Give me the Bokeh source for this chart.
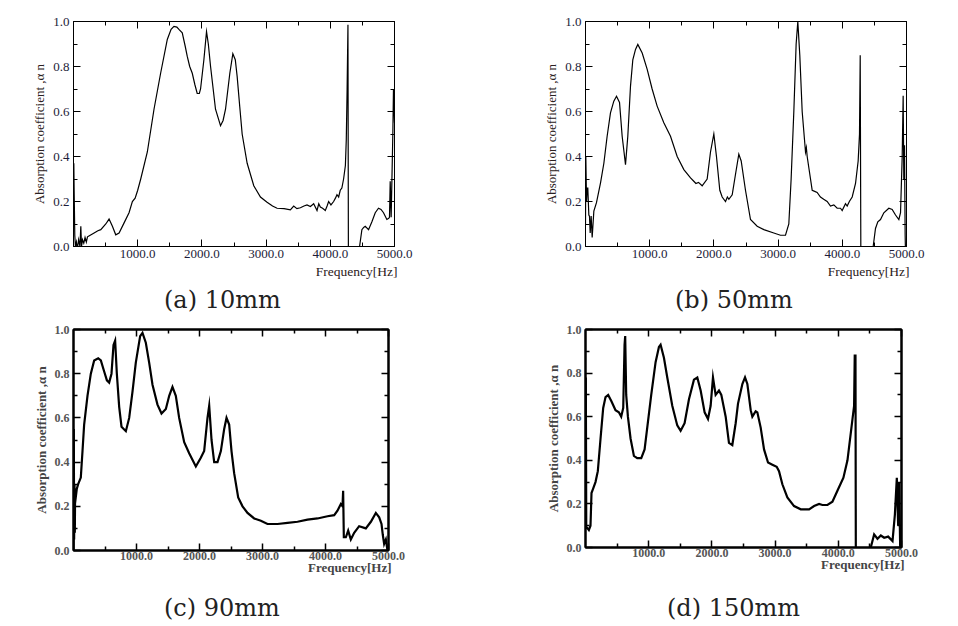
from bokeh.plotting import figure
from bokeh.layouts import column, row
from bokeh.models import (Range1d, FixedTicker, PrintfTickFormatter, LinearAxis,
                          Title, Div, CustomJSTickFormatter)
from bokeh.embed import file_html
from bokeh.resources import INLINE

# ---------------- data ----------------
X_TICKS = [1000, 2000, 3000, 4000, 5000]
X_MINOR = [500, 1500, 2500, 3500, 4500]
Y_TICKS = [0.0, 0.2, 0.4, 0.6, 0.8, 1.0]
Y_MINOR = [0.1, 0.3, 0.5, 0.7, 0.9]
Y_LABEL = "Absorption coefficient ,\u03b1 n"
X_LABEL = "Frequency[Hz]"
CAPTIONS = ["(a) 10mm", "(b) 50mm", "(c) 90mm", "(d) 150mm"]

# (frequency Hz, absorption coefficient)
curve_10mm = [
    (0, 0.20), (5, 0.37), (10, 0.25), (20, 0.05), (30, 0.0), (45, 0.02), (60, -0.01),
    (80, 0.03), (100, 0.0), (114, 0.09), (125, 0.0), (140, 0.03), (160, 0.015),
    (180, 0.04), (200, 0.02), (218, 0.043), (260, 0.05), (321, 0.06), (380, 0.07),
    (425, 0.075), (503, 0.10), (554, 0.122), (606, 0.09), (658, 0.052), (710, 0.06),
    (788, 0.105), (865, 0.15), (917, 0.20), (960, 0.215), (1000, 0.25), (1047, 0.30),
    (1150, 0.42), (1254, 0.61), (1357, 0.77), (1461, 0.92), (1520, 0.965),
    (1565, 0.978), (1610, 0.975), (1642, 0.965), (1694, 0.95), (1740, 0.89),
    (1772, 0.845), (1810, 0.80), (1850, 0.77), (1890, 0.72), (1927, 0.68),
    (1960, 0.68), (1979, 0.70), (2031, 0.83), (2072, 0.955), (2100, 0.90),
    (2135, 0.80), (2212, 0.61), (2290, 0.537), (2330, 0.56), (2368, 0.61),
    (2435, 0.77), (2482, 0.857), (2520, 0.83), (2549, 0.756), (2590, 0.62),
    (2627, 0.50), (2705, 0.37), (2808, 0.27), (2912, 0.22), (3015, 0.197),
    (3100, 0.18), (3171, 0.17), (3280, 0.168), (3378, 0.163), (3430, 0.18),
    (3480, 0.168), (3534, 0.172), (3590, 0.18), (3637, 0.185), (3690, 0.178),
    (3741, 0.19), (3793, 0.16), (3820, 0.19), (3845, 0.175), (3880, 0.17),
    (3922, 0.16), (3950, 0.18), (3974, 0.20), (4010, 0.185), (4052, 0.20),
    (4080, 0.215), (4104, 0.23), (4130, 0.22), (4155, 0.25), (4180, 0.26),
    (4207, 0.30), (4235, 0.36), (4249, 0.475), (4262, 0.70), (4275, 0.985),
    (4285, -0.5), (4300, -0.9), (4400, -0.4), (4456, 0.0), (4492, 0.075),
    (4520, 0.085), (4544, 0.09), (4596, 0.075), (4648, 0.11), (4700, 0.15),
    (4751, 0.17), (4790, 0.165), (4829, 0.15), (4881, 0.12), (4910, 0.125),
    (4922, 0.13), (4933, 0.29), (4948, 0.13), (4960, 0.30), (4974, 0.50),
    (4984, 0.70), (4995, 0.60), (5000, 0.55),
]

curve_50mm = [
    (0, 0.10), (5, 0.40), (16, 0.20), (26, 0.26), (36, 0.26), (52, 0.14), (62, 0.135),
    (73, 0.06), (88, 0.135), (104, 0.04), (130, 0.157), (171, 0.195), (234, 0.283),
    (286, 0.37), (337, 0.49), (389, 0.594), (441, 0.646), (483, 0.668), (530, 0.64),
    (571, 0.49), (600, 0.42), (623, 0.364), (659, 0.49), (701, 0.713), (737, 0.83),
    (779, 0.876), (815, 0.898), (883, 0.86), (961, 0.787), (1038, 0.70),
    (1116, 0.624), (1220, 0.55), (1324, 0.49), (1428, 0.40), (1532, 0.342),
    (1636, 0.305), (1687, 0.29), (1720, 0.28), (1760, 0.285),
    (1817, 0.27), (1895, 0.30), (1947, 0.42), (1999, 0.50), (2040, 0.40),
    (2092, 0.25), (2129, 0.22), (2181, 0.20), (2210, 0.22), (2233, 0.21),
    (2285, 0.23), (2336, 0.32), (2388, 0.41), (2425, 0.38), (2492, 0.25),
    (2570, 0.12), (2674, 0.09), (2778, 0.075), (2933, 0.06), (3037, 0.05),
    (3115, 0.05), (3167, 0.10), (3203, 0.30), (3245, 0.60), (3281, 0.90),
    (3307, 1.0), (3338, 0.85), (3375, 0.60), (3427, 0.42), (3440, 0.44),
    (3453, 0.40), (3484, 0.34), (3531, 0.25), (3570, 0.245), (3608, 0.24),
    (3660, 0.22), (3710, 0.21), (3764, 0.20), (3816, 0.18), (3868, 0.185),
    (3920, 0.17), (3972, 0.17), (3998, 0.16), (4050, 0.19), (4076, 0.18),
    (4110, 0.20), (4154, 0.22), (4206, 0.28), (4247, 0.38), (4268, 0.50),
    (4279, 0.85), (4294, -0.5), (4400, -0.5), (4481, 0.0), (4517, 0.08),
    (4553, 0.11), (4595, 0.12), (4647, 0.15), (4725, 0.17), (4777, 0.165),
    (4829, 0.14), (4881, 0.12), (4907, 0.15), (4933, 0.40), (4948, 0.67),
    (4958, 0.30), (4969, 0.45), (4979, 0.05), (4990, -0.1),
]

curve_90mm = [
    (0, 0.0), (5, 0.55), (10, 0.05), (16, 0.30), (21, 0.08), (26, 0.28), (40, 0.25),
    (53, 0.28), (74, 0.30), (116, 0.33), (143, 0.45), (169, 0.57), (222, 0.70),
    (275, 0.80), (328, 0.86), (392, 0.87), (434, 0.86), (487, 0.81), (530, 0.77),
    (566, 0.76), (603, 0.80), (635, 0.93), (661, 0.95), (688, 0.80), (725, 0.65),
    (762, 0.56), (831, 0.54), (884, 0.60), (937, 0.72), (989, 0.85), (1058, 0.97),
    (1095, 0.985), (1148, 0.94), (1201, 0.85), (1254, 0.75), (1333, 0.66),
    (1397, 0.62), (1466, 0.64), (1519, 0.70), (1571, 0.74), (1624, 0.70),
    (1677, 0.60), (1757, 0.49), (1836, 0.44), (1942, 0.38), (2021, 0.42),
    (2074, 0.45), (2127, 0.60), (2154, 0.655), (2191, 0.50), (2233, 0.40),
    (2286, 0.40), (2339, 0.45), (2392, 0.55), (2429, 0.60), (2471, 0.57),
    (2508, 0.45), (2550, 0.35), (2614, 0.24), (2683, 0.20), (2762, 0.17),
    (2868, 0.145), (2974, 0.135), (3079, 0.12), (3238, 0.12), (3397, 0.125),
    (3556, 0.13), (3714, 0.14), (3873, 0.145), (4032, 0.155), (4138, 0.16),
    (4190, 0.18), (4243, 0.21), (4270, 0.20), (4280, 0.27), (4291, 0.06),
    (4323, 0.06), (4360, 0.09), (4402, 0.05), (4455, 0.08), (4534, 0.11),
    (4640, 0.10), (4720, 0.13), (4799, 0.17), (4852, 0.15), (4889, 0.12),
    (4910, 0.07), (4931, 0.03), (4958, 0.05), (4984, 0.0), (5000, -0.05),
]

curve_150mm = [
    (0, 0.10), (5, 0.78), (12, 0.09), (26, 0.09), (53, 0.08), (79, 0.10), (95, 0.25),
    (121, 0.27), (158, 0.30), (195, 0.35), (238, 0.50), (280, 0.64), (317, 0.69),
    (359, 0.70), (412, 0.67), (475, 0.63), (528, 0.62), (565, 0.60), (597, 0.64),
    (618, 0.93), (628, 0.97), (644, 0.70), (671, 0.60), (713, 0.50), (766, 0.42),
    (818, 0.41), (882, 0.41), (935, 0.45), (977, 0.55), (1040, 0.70), (1109, 0.85),
    (1162, 0.92), (1188, 0.93), (1241, 0.87), (1294, 0.78), (1373, 0.65),
    (1452, 0.56), (1505, 0.535), (1568, 0.57), (1637, 0.68), (1716, 0.77),
    (1769, 0.78), (1822, 0.72), (1885, 0.62), (1938, 0.59), (1980, 0.65),
    (2017, 0.78), (2059, 0.70), (2112, 0.72), (2149, 0.70), (2218, 0.60),
    (2270, 0.48), (2323, 0.47), (2376, 0.57), (2413, 0.66), (2482, 0.75),
    (2524, 0.78), (2561, 0.75), (2614, 0.63), (2640, 0.60), (2693, 0.625),
    (2719, 0.62), (2772, 0.55), (2825, 0.45), (2888, 0.39), (2957, 0.38),
    (3025, 0.37), (3062, 0.35), (3115, 0.29), (3194, 0.23), (3300, 0.19),
    (3406, 0.175), (3538, 0.175), (3617, 0.19), (3696, 0.20), (3749, 0.195),
    (3828, 0.195), (3907, 0.21), (3986, 0.26), (4081, 0.32), (4145, 0.40),
    (4208, 0.55), (4250, 0.65), (4260, 0.88), (4272, 0.88), (4280, -0.5),
    (4400, -0.5), (4514, 0.0), (4567, 0.06), (4620, 0.04), (4673, 0.055),
    (4726, 0.045), (4789, 0.05), (4858, 0.03), (4895, 0.15), (4926, 0.32),
    (4947, 0.10), (4963, 0.30), (4979, 0.0), (5000, -0.1),
]

SERIF = "Liberation Serif"
CAPTION_FONT = "DejaVu Serif"


def make_panel(curve, fw, fh, bl, br, bt, bb, heavy):
    p = figure(frame_width=fw, frame_height=fh,
               x_range=Range1d(0, 5000), y_range=Range1d(0, 1),
               x_axis_type=None, y_axis_type=None,
               output_backend="svg", toolbar_location=None,
               min_border_left=bl, min_border_right=br,
               min_border_top=bt, min_border_bottom=bb,
               background_fill_color="white", border_fill_color="white")
    lw = 2.2 if heavy else 1.2
    p.outline_line_color = "black"
    p.outline_line_width = 2 if heavy else 1
    tick_col = "#555555" if heavy else "#1c1c38"
    lab_col = "#444444" if heavy else "#2a2020"
    style = "bold" if heavy else "normal"

    def style_axis(ax, show):
        ax.axis_line_color = "black"
        ax.axis_line_width = 2 if heavy else 1
        ax.major_tick_in = 7
        ax.major_tick_out = 0
        ax.minor_tick_in = 4
        ax.minor_tick_out = 0
        ax.major_tick_line_width = 1.5 if heavy else 1
        ax.minor_tick_line_width = 1.5 if heavy else 1
        ax.major_label_text_font = SERIF
        ax.major_label_text_font_size = "12px" if heavy else "13px"
        ax.major_label_text_font_style = style
        ax.major_label_text_color = tick_col
        if not show:
            ax.formatter = CustomJSTickFormatter(code="return ''")
            ax.major_label_standoff = 0

    xb = LinearAxis(ticker=FixedTicker(ticks=X_TICKS, minor_ticks=X_MINOR),
                    formatter=PrintfTickFormatter(format="%.1f"))
    style_axis(xb, True)
    xb.major_label_standoff = 1 if heavy else 3
    yl = LinearAxis(ticker=FixedTicker(ticks=Y_TICKS, minor_ticks=Y_MINOR),
                    formatter=PrintfTickFormatter(format="%.1f"),
                    axis_label=Y_LABEL)
    style_axis(yl, True)
    yl.major_label_standoff = 4
    yl.axis_label_standoff = 3
    yl.axis_label_text_font = SERIF
    yl.axis_label_text_font_size = "13px"
    yl.axis_label_text_font_style = style
    yl.axis_label_text_color = lab_col
    xt = LinearAxis(ticker=FixedTicker(ticks=X_TICKS, minor_ticks=X_MINOR))
    style_axis(xt, False)
    yr = LinearAxis(ticker=FixedTicker(ticks=Y_TICKS, minor_ticks=Y_MINOR))
    style_axis(yr, False)

    p.add_layout(xb, "below")
    p.add_layout(yl, "left")
    p.add_layout(xt, "above")
    p.add_layout(yr, "right")

    if heavy:
        ft = Title(text=X_LABEL, align="right", offset=-3, standoff=-8,
                   vertical_align="middle",
                   text_font=SERIF, text_font_size="13px",
                   text_font_style=style, text_color=lab_col)
    else:
        ft = Title(text=X_LABEL, align="right", offset=-3, standoff=2,
                   text_font=SERIF, text_font_size="13.5px",
                   text_font_style=style, text_color=lab_col)
    p.add_layout(ft, "below")

    xs = [c[0] for c in curve]
    ys = [c[1] for c in curve]
    p.line(xs, ys, line_color="black", line_width=lw, line_join="miter")
    return p


def caption_div(text, width, height, pad_left, pad_top):
    html = ('<div style="padding-left:%dpx; padding-top:%dpx; '
            'font-family:\'%s\'; font-size:24px; line-height:28px; '
            'color:#222222; white-space:nowrap;">%s</div>'
            % (pad_left, pad_top, CAPTION_FONT, text))
    return Div(text=html, width=width, height=height, margin=0)


pa = make_panel(curve_10mm, 321, 225, 73, 60, 21, 40, False)
pb = make_panel(curve_50mm, 321, 225, 131, 30, 21, 40, False)
pc = make_panel(curve_90mm, 315, 221, 73, 60, 13, 32, True)
pd = make_panel(curve_150mm, 316, 218, 137, 30, 13, 35, True)

wa, wb = 73 + 321 + 60, 131 + 321 + 30
wc, wd = 73 + 315 + 60, 137 + 316 + 30

ca = caption_div(CAPTIONS[0], wa, 30, 164, 0)
cb = caption_div(CAPTIONS[1], wb, 30, 675 - wa, 0)
cc = caption_div(CAPTIONS[2], wc, 42, 164, 12)
cd = caption_div(CAPTIONS[3], wd, 42, 667 - wc, 12)

layout = column(row(column(pa, ca), column(pb, cb)),
                row(column(pc, cc), column(pd, cd)))

with open("out.html", "w") as f:
    f.write(file_html(layout, INLINE))
